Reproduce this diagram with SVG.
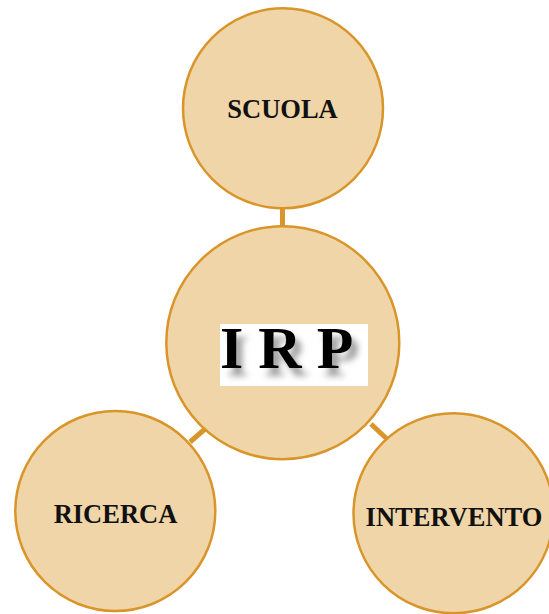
<svg xmlns="http://www.w3.org/2000/svg" width="549" height="614" viewBox="0 0 549 614">
<defs>
<style>
.node{fill:#F0D5A8;stroke:#D9952A;stroke-width:2.5}
.lbl{font-family:"Liberation Serif","Times New Roman",serif;font-weight:bold;font-size:26.5px;fill:#111;text-anchor:middle}
.conn{stroke:#D9952A;stroke-width:5;fill:none}
.irp{font-family:"Liberation Serif","Times New Roman",serif;font-weight:bold;font-size:60px}
</style>
<filter id="shadow" x="-20%" y="-30%" width="140%" height="160%">
<feGaussianBlur in="SourceAlpha" stdDeviation="3"/>
<feOffset dx="6" dy="8" result="b"/>
<feFlood flood-color="#777" flood-opacity="0.7"/>
<feComposite in2="b" operator="in" result="s"/>
<feMerge><feMergeNode in="s"/><feMergeNode in="SourceGraphic"/></feMerge>
</filter>
</defs>
<rect width="549" height="614" fill="#fff"/>
<g id="connectors">
<line class="conn" x1="282.5" y1="209" x2="282.5" y2="228"/>
<line class="conn" x1="190" y1="442" x2="205" y2="429"/>
<line class="conn" x1="371" y1="424" x2="387" y2="439"/>
</g>
<g id="scuola">
<circle class="node" cx="283" cy="108.3" r="100"/>
<text class="lbl" x="282.5" y="118.3">SCUOLA</text>
</g>
<g id="irp">
<circle class="node" cx="282.8" cy="342.7" r="116.5"/>
<rect x="220" y="324" width="148" height="62" fill="#fff"/>
<text class="irp" x="220" y="368.3" fill="#000" filter="url(#shadow)" xml:space="preserve">I R P</text>
</g>
<g id="ricerca">
<circle class="node" cx="115.3" cy="511" r="100"/>
<text class="lbl" x="115.5" y="523.3">RICERCA</text>
</g>
<g id="intervento">
<circle class="node" cx="453.5" cy="513.3" r="100"/>
<text class="lbl" x="454" y="525.5">INTERVENTO</text>
</g>
</svg>
